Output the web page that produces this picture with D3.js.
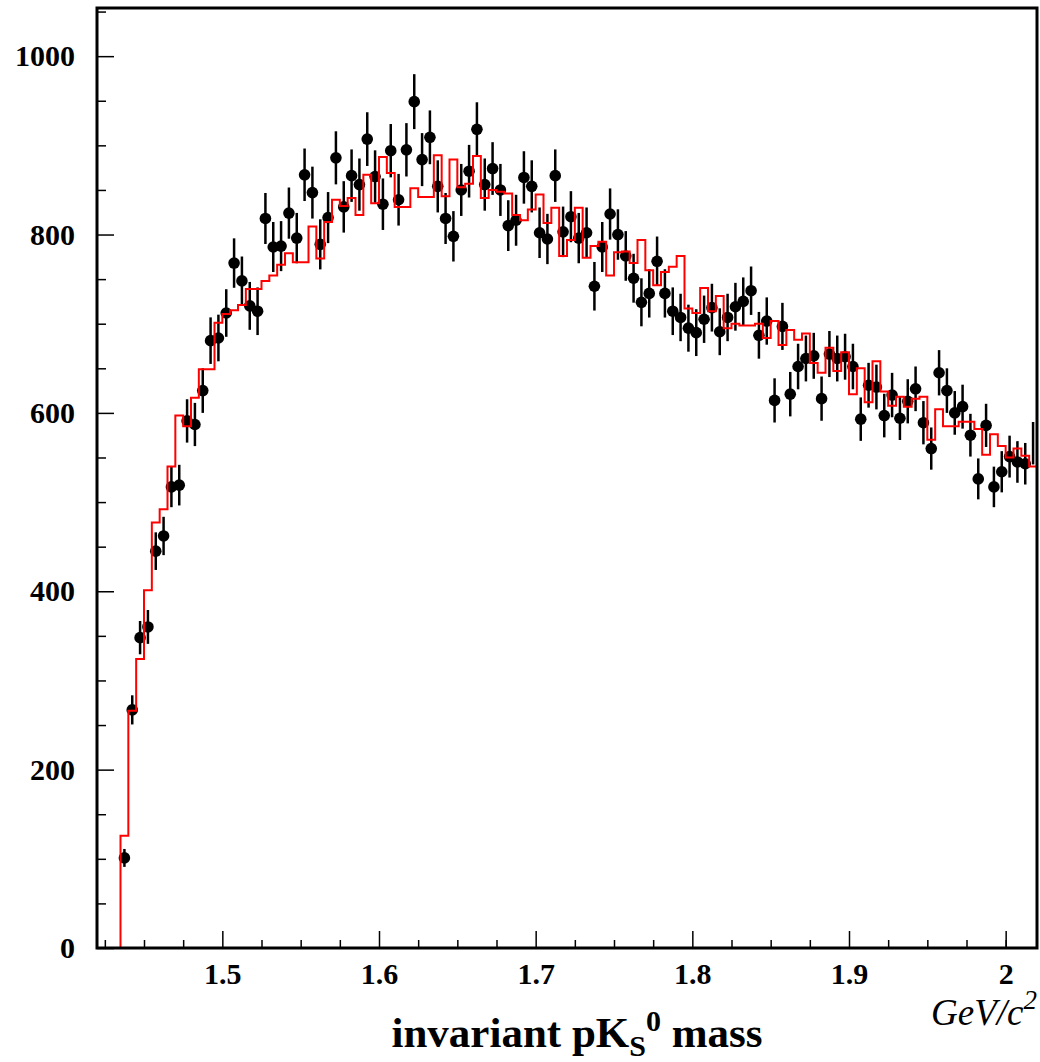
<!DOCTYPE html>
<html>
<head>
<meta charset="utf-8">
<script src="https://cdn.jsdelivr.net/npm/d3@7"></script>
<style>
  body { margin: 0; background: #fff; }
  text { font-family: "Liberation Serif", "Times New Roman", serif; }
</style>
</head>
<body>
<div id="chart"></div>
<script>
// histogram binning: 120 bins of 5 MeV from 1.42 to 2.02 GeV
var xMin = 1.42, xMax = 2.02, binWidth = 0.005;
var yMax = 1054;

// measured entries per bin (black points)
var dataCounts = [
  0, 0, 0, 101, 267, 348, 360, 445, 462, 517, 519, 591, 587, 625, 681, 684, 712, 768, 748, 720,
  714, 818, 786, 787, 824, 796, 867, 847, 789, 819, 886, 831, 866, 856, 907, 865, 834, 894, 839, 895,
  949, 884, 909, 854, 818, 798, 850, 871, 918, 856, 874, 850, 810, 816, 864, 854, 802, 795, 866, 803,
  820, 796, 802, 742, 786, 823, 800, 776, 751, 724, 734, 770, 734, 714, 707, 695, 690, 705, 718, 691,
  707, 719, 725, 737, 687, 703, 614, 697, 621, 652, 661, 664, 616, 666, 661, 663, 652, 593, 631, 629,
  597, 620, 594, 613, 627, 589, 560, 645, 625, 600, 607, 575, 526, 586, 517, 534, 551, 545, 543, 566
];

// red histogram (background estimate)
var fitCounts = [
  0, 0, 0, 126, 266, 324, 401, 477, 492, 540, 597, 585, 617, 649, 649, 701, 711, 715, 721, 739,
  739, 748, 754, 766, 779, 769, 769, 809, 773, 814, 839, 832, 841, 822, 867, 835, 887, 869, 831, 831,
  852, 842, 842, 889, 843, 884, 853, 857, 888, 841, 850, 848, 846, 822, 816, 828, 845, 813, 830, 776,
  794, 830, 774, 787, 792, 754, 780, 781, 768, 794, 760, 743, 758, 764, 776, 717, 712, 740, 714, 731,
  695, 700, 698, 698, 700, 684, 703, 676, 693, 682, 689, 656, 645, 673, 647, 668, 621, 650, 612, 658,
  624, 608, 618, 607, 616, 618, 570, 604, 585, 585, 590, 590, 582, 553, 576, 563, 550, 560, 552, 540
];

var xTicks = [1.5, 1.6, 1.7, 1.8, 1.9, 2];
var xMinorTicks = [1.425, 1.45, 1.475, 1.525, 1.55, 1.575, 1.625, 1.65, 1.675, 1.725, 1.75, 1.775,
                   1.825, 1.85, 1.875, 1.925, 1.95, 1.975, 2.0];
var yTicks = [0, 200, 400, 600, 800, 1000];
var yMinorTicks = [50, 100, 150, 250, 300, 350, 450, 500, 550, 650, 700, 750, 850, 900, 950, 1050];

var width = 1040, height = 1062;
var margin = {top: 8, right: 3, bottom: 114, left: 97};
var plotW = width - margin.left - margin.right,
    plotH = height - margin.top - margin.bottom;

var svg = d3.select("#chart").append("svg")
    .attr("width", width)
    .attr("height", height);

var g = svg.append("g")
    .attr("transform", "translate(" + margin.left + "," + margin.top + ")");

var x = d3.scaleLinear().domain([xMin, xMax]).range([0, plotW]);
var y = d3.scaleLinear().domain([0, yMax]).range([plotH, 0]);

//axes with inward ticks
var xAxis = d3.axisBottom(x).tickValues(xTicks).tickSize(-17).tickPadding(15)
    .tickFormat(d3.format("~g"));
var xAxisMinor = d3.axisBottom(x).tickValues(xMinorTicks).tickSize(-8).tickFormat("");
var yAxis = d3.axisLeft(y).tickValues(yTicks).tickSize(-17).tickPadding(22)
    .tickFormat(d3.format("d"));
var yAxisMinor = d3.axisLeft(y).tickValues(yMinorTicks).tickSize(-9).tickFormat("");

g.append("g").attr("transform", "translate(0," + plotH + ")").call(xAxisMinor);
g.append("g").attr("class", "x axis").attr("transform", "translate(0," + plotH + ")").call(xAxis);
g.append("g").call(yAxisMinor);
g.append("g").attr("class", "y axis").call(yAxis);

g.selectAll(".domain").remove();
g.selectAll(".tick line").attr("stroke", "#000").attr("stroke-width", 1.5);
g.selectAll(".tick text")
    .attr("fill", "#000")
    .style("font-size", "30px")
    .style("font-weight", "bold");

//data points with sqrt(N) errors
var bins = dataCounts.map(function(v, i) {
  return {lo: xMin + i * binWidth, mid: xMin + (i + 0.5) * binWidth, v: v, fit: fitCounts[i]};
});
var filled = bins.filter(function(d) { return d.v > 0; });

g.append("clipPath").attr("id", "frame-clip")
  .append("rect").attr("width", plotW).attr("height", plotH);

var pts = g.append("g").attr("clip-path", "url(#frame-clip)");

pts.selectAll("line.err")
    .data(filled)
  .enter().append("line")
    .attr("class", "err")
    .attr("x1", function(d) { return x(d.mid); })
    .attr("x2", function(d) { return x(d.mid); })
    .attr("y1", function(d) { return y(d.v + Math.sqrt(d.v)); })
    .attr("y2", function(d) { return y(d.v - Math.sqrt(d.v)); })
    .attr("stroke", "#000")
    .attr("stroke-width", 2.5);

// markers that would cross the frame edge are not drawn (as in the original)
pts.selectAll("circle")
    .data(filled.filter(function(d) { return x(d.mid) + 6 < plotW; }))
  .enter().append("circle")
    .attr("cx", function(d) { return x(d.mid); })
    .attr("cy", function(d) { return y(d.v); })
    .attr("r", 5.8)
    .attr("fill", "#000");

//red step histogram
var steps = [[xMin, 0]];
bins.forEach(function(d) {
  steps.push([d.lo, d.fit]);
  steps.push([d.lo + binWidth, d.fit]);
});
steps.push([xMax, 0]);

var line = d3.line()
    .x(function(d) { return x(d[0]); })
    .y(function(d) { return y(d[1]); });

g.append("path")
    .datum(steps)
    .attr("d", line)
    .attr("fill", "none")
    .attr("stroke", "#ff0000")
    .attr("stroke-width", 2);

//frame
g.append("rect")
    .attr("width", plotW)
    .attr("height", plotH)
    .attr("fill", "none")
    .attr("stroke", "#000")
    .attr("stroke-width", 3);

//axis titles
svg.append("text")
    .attr("x", 1037)
    .attr("y", 1025)
    .attr("text-anchor", "end")
    .style("font-size", "37px")
    .style("font-style", "italic")
    .text("GeV/c")
  .append("tspan")
    .attr("dy", -16)
    .style("font-size", "27px")
    .text("2");

var title = svg.append("text")
    .attr("x", 577)
    .attr("y", 1047)
    .attr("text-anchor", "middle")
    .style("font-size", "43px")
    .style("font-weight", "bold");
title.append("tspan").text("invariant pK");
title.append("tspan").attr("dy", 9).style("font-size", "30px").text("S");
title.append("tspan").attr("dy", -25).style("font-size", "30px").text("0");
title.append("tspan").attr("dy", 16).text(" mass");
</script>
</body>
</html>
